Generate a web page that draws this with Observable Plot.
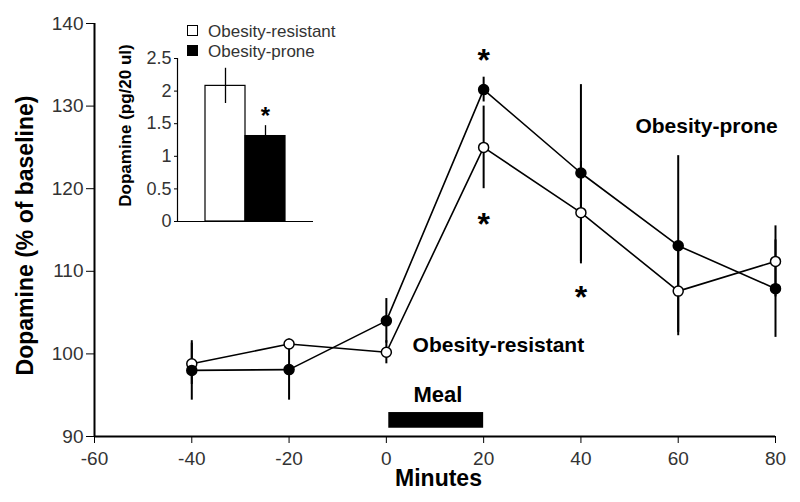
<!DOCTYPE html>
<html><head><meta charset="utf-8">
<script src="https://cdn.jsdelivr.net/npm/d3@7"></script>
<script src="https://cdn.jsdelivr.net/npm/@observablehq/plot@0.6"></script>
<style>
body{margin:0;background:#fff;}
#wrap{position:relative;width:800px;height:502px;font-family:"Liberation Sans",Arial,sans-serif;overflow:hidden;}
#wrap svg{position:absolute;left:0;top:0;}
#wrap svg.inset{left:100px;top:0px;}
.lg{position:absolute;left:187px;height:20px;line-height:20px;font-size:17px;color:#333;white-space:nowrap;}
.lg .sw{display:inline-block;width:9px;height:9px;border:1.5px solid #000;vertical-align:middle;margin-right:10px;position:relative;top:-2px;}
svg [aria-label$="tick label"] text{fill:#333;}
</style></head><body><div id="wrap"></div>
<script>
// ---- data ----
const minutes = [-40, -20, 0, 20, 40, 60, 80];
const proneMean = [98.0, 98.1, 104.0, 132.0, 121.9, 113.1, 107.9];
const proneSem = [3.6, 3.7, 2.7, 1.5, 10.7, 10.9, 5.9];
const resistantMean = [98.8, 101.2, 100.2, 125.0, 117.1, 107.6, 111.2];
const resistantSem = [2.5, 0.5, 1.4, 5.0, 6.2, 5.0, 4.3];
const xTicks = [-60, -40, -20, 0, 20, 40, 60, 80];
const yTicks = [90, 100, 110, 120, 130, 140];
const mealWindow = [0.5, 20];
const mealBand = [91.0, 92.9];
const starMinutes = [20, 20, 40];
const starLevels = [136.4, 116.6, 107.8];
const seriesLabels = ["Obesity-prone", "Obesity-resistant"];
const seriesLabelX = [51.2, 5.4];
const seriesLabelY = [127.5, 101.0];
const mealLabel = {text: "Meal", x: 10.6, y: 95.0};

const insetGroups = ["Obesity-resistant", "Obesity-prone"];
const insetMeans = [2.08, 1.31];
const insetSems = [0.27, 0.16];
const insetTicks = [0, 0.5, 1, 1.5, 2, 2.5];
const insetStar = 1.70;

// ---- build tables ----
const rows = [];
minutes.forEach((m, i) => {
  rows.push({group: "resistant", minute: m, mean: resistantMean[i], sem: resistantSem[i]});
});
minutes.forEach((m, i) => {
  rows.push({group: "prone", minute: m, mean: proneMean[i], sem: proneSem[i]});
});
const stars = starMinutes.map((m, i) => ({minute: m, level: starLevels[i]}));
const labels = seriesLabels.map((t, i) => ({text: t, x: seriesLabelX[i], y: seriesLabelY[i]}));
const insetRows = insetGroups.map((g, i) => ({group: g, i, mean: insetMeans[i], sem: insetSems[i]}));

const font = '"Liberation Sans", Arial, sans-serif';

const main = Plot.plot({
  width: 800, height: 502,
  marginLeft: 94, marginRight: 25, marginTop: 23, marginBottom: 66,
  style: {fontFamily: font, fontSize: "19px", background: "white", color: "black"},
  x: {domain: [-60, 80]},
  y: {domain: [90, 140]},
  marks: [
    Plot.axisX({ticks: xTicks, tickSize: 7, tickPadding: 8, tickFormat: d => String(d), label: null, fontSize: 19}),
    Plot.axisY({ticks: yTicks, tickSize: 8, tickPadding: 3, tickFormat: d => String(d), label: null, fontSize: 19}),
    Plot.ruleY([90], {x1: -60, x2: 80, strokeWidth: 2}),
    Plot.ruleX([-60], {y1: 90, y2: 140, strokeWidth: 2}),
    Plot.rect([0], {x1: mealWindow[0], x2: mealWindow[1], y1: mealBand[0], y2: mealBand[1], fill: "black"}),
    Plot.ruleX(rows, {x: "minute", y1: d => d.mean - d.sem, y2: d => d.mean + d.sem, strokeWidth: 2}),
    Plot.line(rows, {x: "minute", y: "mean", z: "group", strokeWidth: 1.6}),
    Plot.dot(rows, {x: "minute", y: "mean", r: 5, stroke: "black", strokeWidth: 1.5,
      fill: d => d.group === "prone" ? "black" : "white"}),
    Plot.text(stars, {x: "minute", y: "level", text: () => "*", fontSize: 32, fontWeight: "bold", dy: 8}),
    Plot.text(labels, {x: "x", y: "y", text: "text", textAnchor: "start", fontWeight: "bold", fontSize: 21}),
    Plot.text([mealLabel], {x: "x", y: "y", text: "text", textAnchor: "middle", fontWeight: "bold", fontSize: 22}),
    Plot.text(["Minutes"], {frameAnchor: "bottom", textAnchor: "middle", text: d => d, dx: 3.5, dy: 49, fontWeight: "bold", fontSize: 23}),
    Plot.text(["Dopamine (% of baseline)"], {frameAnchor: "left", textAnchor: "middle", text: d => d, dx: -69, dy: 5.5, rotate: -90,
      fontWeight: "bold", fontSize: 23})
  ]
});

const inset = Plot.plot({
  width: 250, height: 235,
  marginLeft: 77, marginRight: 37, marginTop: 58, marginBottom: 14,
  style: {fontFamily: font, fontSize: "18px", background: "transparent", color: "black"},
  x: {domain: [-0.7, 2.7], axis: null},
  y: {domain: [0, 2.5], axis: null},
  marks: [
    Plot.rectY(insetRows, {x1: "i", x2: d => d.i + 1, y: "mean",
      fill: d => d.i === 1 ? "black" : "white", stroke: "black", strokeWidth: 1.2}),
    Plot.ruleX(insetRows, {x: d => d.i + 0.5, y1: d => d.mean - d.sem, y2: d => d.mean + d.sem, strokeWidth: 1.3}),
    Plot.ruleX([-0.7], {y1: 0, y2: 2.5, strokeWidth: 1.2}),
    Plot.ruleY([0], {x1: -0.7, x2: 2.7, strokeWidth: 1.2}),
    Plot.axisY({ticks: insetTicks, tickSize: 3, tickPadding: 3, tickFormat: d => String(d), label: null, fontSize: 18}),
    Plot.text([insetStar], {x: 1.5, y: d => d, text: () => "*", fontSize: 24, fontWeight: "bold", dy: 6}),
    Plot.text(["Dopamine (pg/20 ul)"], {frameAnchor: "left", textAnchor: "middle", text: d => d, dx: -52, dy: -14.5, rotate: -90,
      fontWeight: "bold", fontSize: 17})
  ]
});
inset.classList.add("inset");

const wrap = document.getElementById("wrap");
wrap.appendChild(main);
wrap.appendChild(inset);

insetGroups.forEach((g, i) => {
  const div = document.createElement("div");
  div.className = "lg";
  div.style.top = (22 + i * 20) + "px";
  const sw = document.createElement("span");
  sw.className = "sw";
  sw.style.background = i === 1 ? "black" : "white";
  div.appendChild(sw);
  div.appendChild(document.createTextNode(g));
  wrap.appendChild(div);
});
</script>
</body></html>
